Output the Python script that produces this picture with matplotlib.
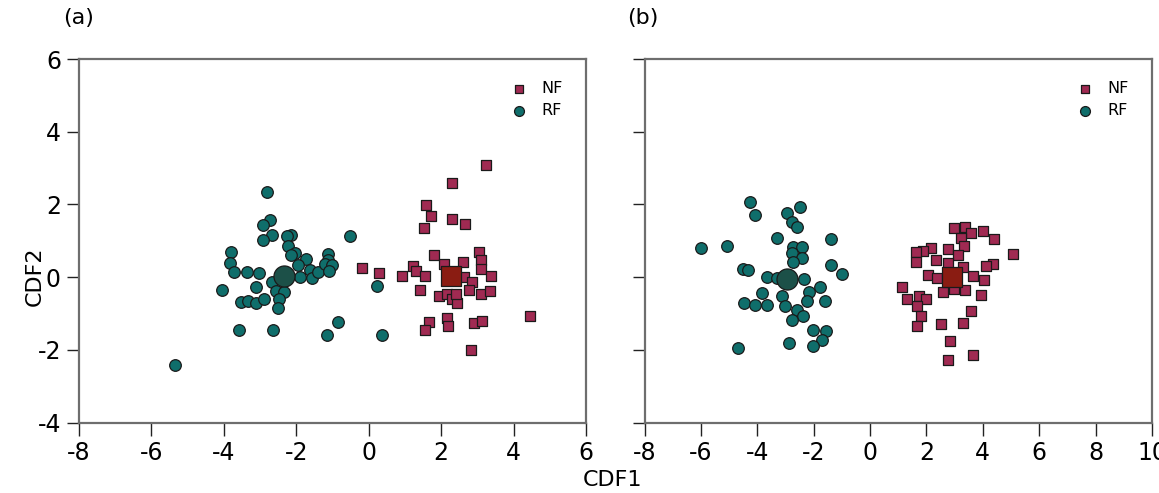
import matplotlib
matplotlib.use("Agg")
import matplotlib.pyplot as plt
from matplotlib import font_manager

# ---------------- data ----------------
# Panel (a)
a_nf_x = [3.24, 2.31, 1.57, 1.73, 1.53, 2.31, 2.65, 1.80, 3.05, 3.09, 3.09, 3.38, 2.61, 2.08,
          1.22, 1.30, 0.93, 1.55, -0.18, 0.28, 1.42, 2.63, 2.86, 2.77, 3.09, 3.35, 1.94, 2.17,
          2.31, 2.45, 2.40, 4.46, 2.15, 2.20, 1.67, 1.56, 2.91, 3.12, 2.82]
a_nf_y = [3.09, 2.58, 1.99, 1.68, 1.34, 1.59, 1.47, 0.61, 0.69, 0.46, 0.23, 0.03, 0.42, 0.35,
          0.31, 0.17, 0.03, 0.03, 0.26, 0.12, -0.36, 0.01, -0.13, -0.36, -0.47, -0.38, -0.52, -0.47,
          -0.61, -0.72, -0.45, -1.07, -1.12, -1.33, -1.24, -1.46, -1.26, -1.21, -1.99]
a_rf_x = [-2.80, -2.73, -2.92, -2.67, -2.92, -2.15, -2.27, -2.24, -2.03, -2.14, -1.74, -1.94,
          -1.62, -1.90, -1.56, -1.39, -1.12, -1.12, -1.22, -1.02, -1.10, -0.51, -3.81, -3.84,
          -3.72, -3.37, -3.03, -4.04, -3.10, -2.68, -2.57, -2.34, -2.48, -2.51, -3.54, -3.32,
          -3.10, -2.88, -3.58, -2.64, -0.85, -1.16, -5.35, 0.24, 0.38]
a_rf_y = [2.34, 1.57, 1.44, 1.15, 1.02, 1.17, 1.12, 0.86, 0.67, 0.60, 0.49, 0.33,
          0.21, 0.00, -0.01, 0.14, 0.63, 0.46, 0.35, 0.33, 0.16, 1.12, 0.70, 0.38,
          0.14, 0.14, 0.12, -0.34, -0.27, -0.13, -0.38, -0.41, -0.61, -0.84, -0.68, -0.66,
          -0.72, -0.61, -1.44, -1.44, -1.24, -1.58, -2.40, -0.23, -1.60]
a_nf_center = (2.27, 0.03)
a_rf_center = (-2.33, 0.04)

# Panel (b)
b_nf_x = [2.99, 3.37, 3.58, 4.01, 4.39, 3.21, 3.34, 2.77, 2.16, 1.89, 1.63, 1.63, 2.34, 3.13,
          2.77, 3.30, 5.08, 4.37, 4.13, 2.06, 2.36, 3.66, 4.04, 2.57, 2.99, 3.37, 3.93, 1.12,
          1.30, 1.74, 1.98, 1.67, 1.80, 1.67, 2.50, 3.30, 3.58, 2.83, 2.77, 3.64]
b_nf_y = [1.35, 1.39, 1.21, 1.28, 1.05, 1.07, 0.86, 0.77, 0.80, 0.73, 0.68, 0.43, 0.48, 0.62,
          0.39, 0.29, 0.64, 0.36, 0.31, 0.07, -0.01, 0.04, -0.07, -0.42, -0.33, -0.35, -0.48, -0.28,
          -0.60, -0.51, -0.60, -0.79, -1.06, -1.35, -1.29, -1.26, -0.94, -1.75, -2.27, -2.13]
b_rf_x = [-4.26, -4.08, -2.94, -2.49, -2.76, -2.60, -3.29, -1.40, -6.01, -5.09, -2.72, -2.40,
          -2.76, -2.40, -2.72, -1.40, -1.01, -4.50, -4.34, -3.67, -3.31, -2.34, -1.78, -3.84,
          -4.47, -4.08, -3.67, -3.13, -2.16, -2.25, -1.60, -3.02, -2.60, -2.39, -2.78, -2.01,
          -1.57, -1.72, -2.04, -2.87, -4.67]
b_rf_y = [2.08, 1.71, 1.76, 1.93, 1.53, 1.38, 1.07, 1.05, 0.80, 0.86, 0.84, 0.83,
          0.66, 0.52, 0.43, 0.34, 0.08, 0.22, 0.20, 0.00, -0.02, -0.05, -0.26, -0.44,
          -0.70, -0.76, -0.76, -0.51, -0.42, -0.65, -0.65, -0.80, -0.90, -1.06, -1.17, -1.45,
          -1.47, -1.72, -1.88, -1.81, -1.95]
b_nf_center = (2.89, 0.0)
b_rf_center = (-2.96, -0.04)

x_ticks_a = [-8, -6, -4, -2, 0, 2, 4, 6]
x_ticks_b = [-8, -6, -4, -2, 0, 2, 4, 6, 8, 10]
y_ticks = [-4, -2, 0, 2, 4, 6]
panel_titles = ["(a)", "(b)"]
series_labels = ["NF", "RF"]

# ---------------- style ----------------
avail = {f.name for f in font_manager.fontManager.ttflist}
fam = ["DejaVu Sans Condensed", "DejaVu Sans"] if "DejaVu Sans Condensed" in avail else ["DejaVu Sans"]
plt.rcParams["font.family"] = fam

NF_COLOR = "#a02a52"
RF_COLOR = "#0f6e6b"
NF_CENTER = "#8a1c12"
RF_CENTER = "#1c5048"
EDGE = "#1a1a1a"
TICK_FS = 19 if len(fam) == 2 else 17

fig = plt.figure(figsize=(11.59, 4.93), dpi=100)
ax_a = fig.add_axes([79 / 1159, 1 - 422.7 / 493, 507 / 1159, 363.7 / 493])
ax_b = fig.add_axes([644.5 / 1159, 1 - 422.7 / 493, 507.5 / 1159, 363.7 / 493])

panels = [
    (ax_a, a_nf_x, a_nf_y, a_rf_x, a_rf_y, a_nf_center, a_rf_center, (-8, 6), x_ticks_a),
    (ax_b, b_nf_x, b_nf_y, b_rf_x, b_rf_y, b_nf_center, b_rf_center, (-8, 10), x_ticks_b),
]

for i, (ax, nfx, nfy, rfx, rfy, nfc, rfc, xlim, xt) in enumerate(panels):
    ax.scatter(nfx, nfy, marker="s", s=52, c=NF_COLOR, edgecolors=EDGE, linewidths=0.9,
               label=series_labels[0], zorder=3)
    ax.scatter(rfx, rfy, marker="o", s=70, c=RF_COLOR, edgecolors=EDGE, linewidths=0.9,
               label=series_labels[1], zorder=3)
    ax.scatter([nfc[0]], [nfc[1]], marker="s", s=200, c=NF_CENTER, edgecolors=EDGE,
               linewidths=0.9, zorder=4)
    ax.scatter([rfc[0]], [rfc[1]], marker="o", s=230, c=RF_CENTER, edgecolors=EDGE,
               linewidths=0.9, zorder=4)
    ax.set_xlim(*xlim)
    ax.set_ylim(-4, 6)
    ax.set_xticks(xt)
    ax.set_xticklabels([str(t) for t in xt])
    ax.set_yticks(y_ticks)
    if i == 0:
        ax.set_yticklabels([str(t) for t in y_ticks])
    else:
        ax.set_yticklabels([])
    ax.tick_params(direction="out", length=9, width=1.0, color="#222222",
                   labelsize=TICK_FS, pad=4)
    for sp in ax.spines.values():
        sp.set_color("#6e6e6e")
        sp.set_linewidth(1.6)
    leg = ax.legend(loc="upper left", bbox_to_anchor=(0.853, 0.94), frameon=False,
                    fontsize=11.5, handlelength=1.0, handletextpad=0.9, borderpad=0,
                    borderaxespad=0, labelspacing=0.45, markerscale=0.85)
    fig.text((63 if i == 0 else 627) / 1159, 1 - 18 / 493, panel_titles[i],
             fontsize=TICK_FS - 1, va="center", ha="left")

fig.text(35 / 1159, 1 - 276 / 493, "CDF2", rotation=90, fontsize=TICK_FS - 1,
         va="center", ha="center")
fig.text(612 / 1159, 1 - 470 / 493, "CDF1", fontsize=TICK_FS - 1, va="top", ha="center")

fig.savefig("out.png", dpi=100)
